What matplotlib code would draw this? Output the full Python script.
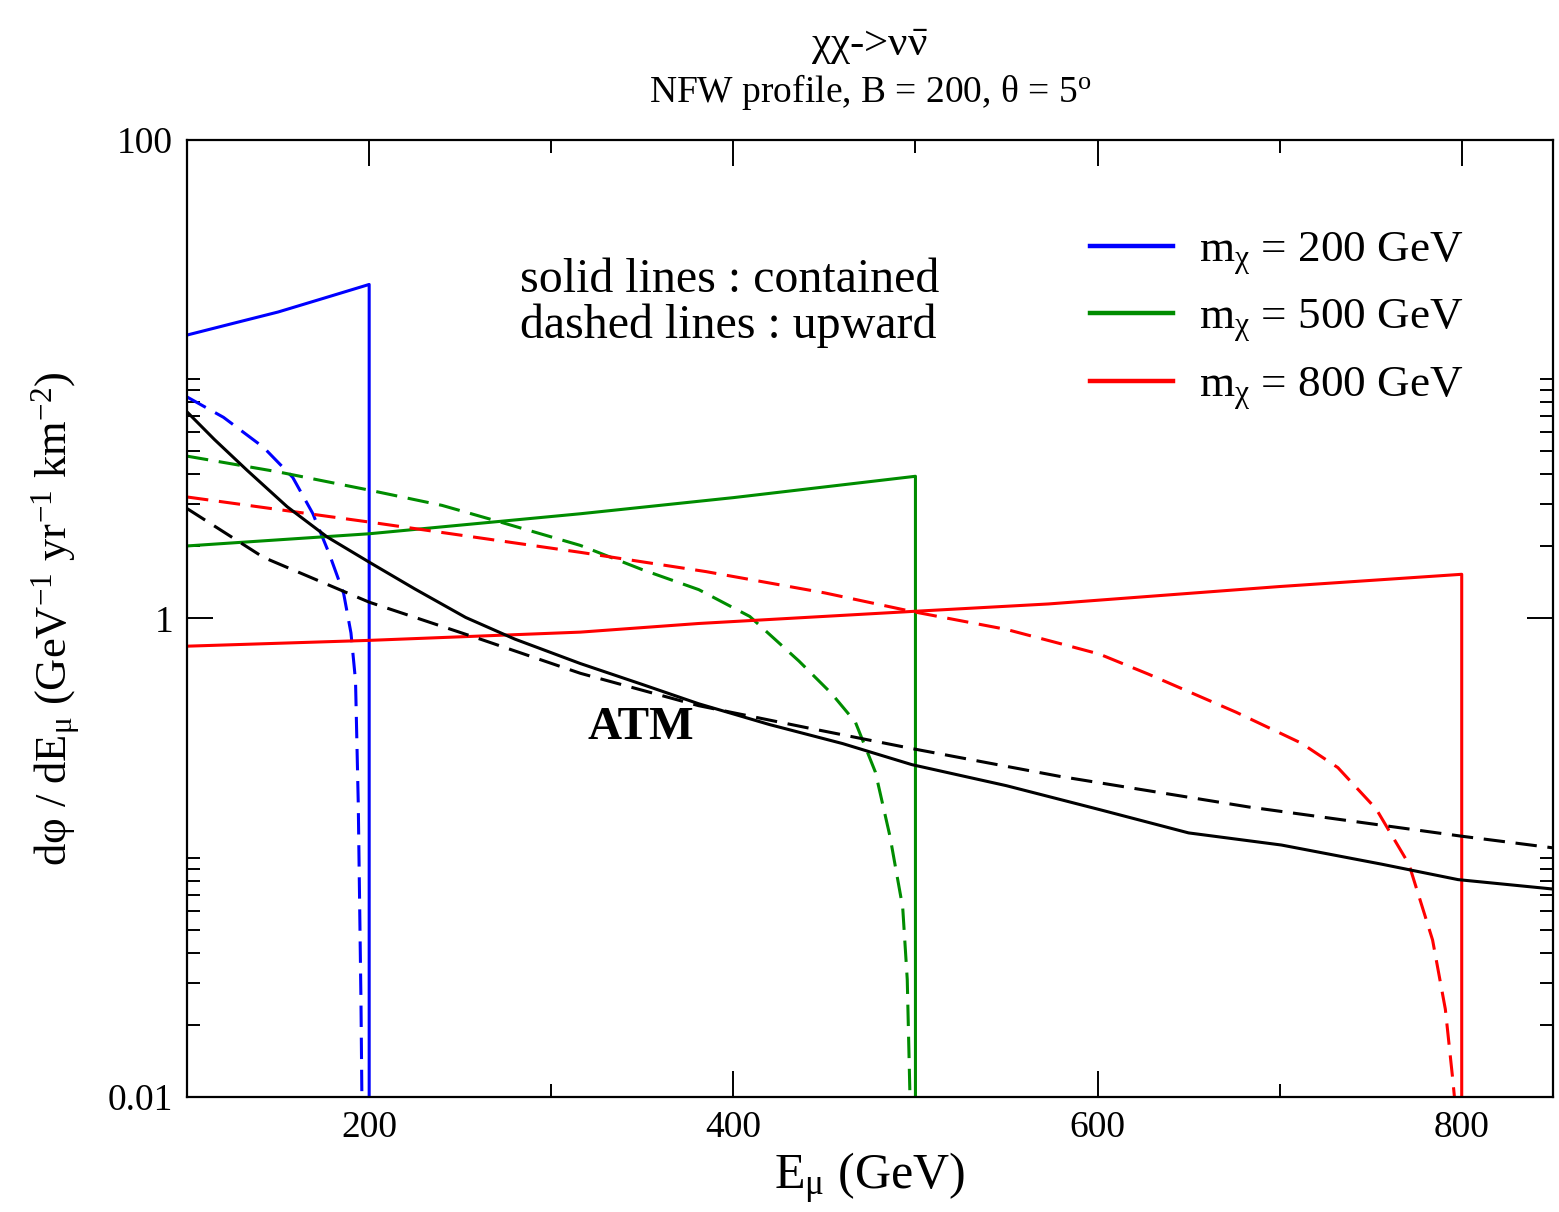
import numpy as np
import matplotlib
matplotlib.use('Agg')
import matplotlib.pyplot as plt
from matplotlib.ticker import MultipleLocator, FixedLocator, NullFormatter, FixedFormatter

plt.rcParams['font.family'] = ['Liberation Serif', 'DejaVu Serif']
plt.rcParams['mathtext.fontset'] = 'custom'
plt.rcParams['mathtext.rm'] = 'Liberation Serif'
plt.rcParams['mathtext.it'] = 'Liberation Serif'
plt.rcParams['mathtext.bf'] = 'Liberation Serif:bold'

#%% datos
# m = 200 GeV
b_sol_x = [100, 125, 150, 175, 200, 200]
b_sol_y = [15.3, 17.1, 19.1, 21.8, 24.9, 0.01]
b_das_x = [100, 120, 142, 158, 169, 178, 186, 190, 192.5, 194, 195.5, 196]
b_das_y = [8.43, 6.93, 5.19, 3.89, 2.75, 1.87, 1.27, 0.87, 0.55, 0.17, 0.025, 0.01]

# m = 500 GeV
g_sol_x = [100, 200, 316, 400, 500, 500]
g_sol_y = [2.01, 2.26, 2.74, 3.2, 3.93, 0.01]
g_das_x = [100, 150, 200, 240, 272, 316, 350, 381, 409, 436, 454, 467, 478, 486, 493, 495.5, 497]
g_das_y = [4.77, 4.1, 3.44, 2.97, 2.53, 2.02, 1.6, 1.32, 1.02, 0.664, 0.485, 0.369, 0.228, 0.123, 0.062, 0.031, 0.01]

# m = 800 GeV
r_sol_x = [100, 200, 316, 381, 498, 573, 700, 800, 800]
r_sol_y = [0.766, 0.81, 0.877, 0.953, 1.07, 1.15, 1.36, 1.53, 0.01]
r_das_x = [100, 200, 316, 385, 450, 498, 550, 579, 601, 628, 676, 712, 732, 753, 771, 784, 791, 795, 796]
r_das_y = [3.22, 2.53, 1.89, 1.57, 1.28, 1.07, 0.90, 0.787, 0.71, 0.585, 0.406, 0.301, 0.238, 0.160, 0.094, 0.0453, 0.0233, 0.012, 0.01]

# ATM
atm_sol_x = [100, 115, 133, 155, 177, 200, 225, 253, 280, 316, 350, 381, 420, 460, 498, 550, 601, 650, 701, 756, 798, 850]
atm_sol_y = [7.3, 5.6, 4.16, 2.93, 2.19, 1.72, 1.33, 1.01, 0.82, 0.648, 0.53, 0.44, 0.36, 0.30, 0.245, 0.20, 0.159, 0.127, 0.113, 0.094, 0.081, 0.074]
atm_das_x = [100, 142, 200, 261, 316, 381, 440, 498, 579, 683, 800, 850]
atm_das_y = [2.88, 1.80, 1.17, 0.82, 0.59, 0.432, 0.35, 0.286, 0.219, 0.163, 0.123, 0.110]

leyenda = ['m$_{\\chi}$ = 200 GeV', 'm$_{\\chi}$ = 500 GeV', 'm$_{\\chi}$ = 800 GeV']
ytick_vals = [0.01, 1, 100]
ytick_lab = ['0.01', '1', '100']

azul = '#0000ff'
verde = '#008c00'
rojo = '#ff0000'
lw = 2.2
dsh = (7, 3.5)

fig = plt.figure(figsize=(15.59, 12.12), dpi=100)
ax = fig.add_axes([0.120, 0.0949, 0.876, 0.7896])

l1, = ax.plot(b_sol_x, b_sol_y, color=azul, lw=lw)
ax.plot(b_das_x, b_das_y, color=azul, lw=lw, dashes=dsh)
l2, = ax.plot(g_sol_x, g_sol_y, color=verde, lw=lw)
ax.plot(g_das_x, g_das_y, color=verde, lw=lw, dashes=dsh)
l3, = ax.plot(r_sol_x, r_sol_y, color=rojo, lw=lw)
ax.plot(r_das_x, r_das_y, color=rojo, lw=lw, dashes=dsh)
ax.plot(atm_sol_x, atm_sol_y, color='k', lw=lw)
ax.plot(atm_das_x, atm_das_y, color='k', lw=lw, dashes=dsh)

ax.set_yscale('log')
ax.set_xlim(100, 850)
ax.set_ylim(0.01, 100)

ax.xaxis.set_major_locator(MultipleLocator(200))
ax.xaxis.set_minor_locator(MultipleLocator(100))
ax.yaxis.set_major_locator(FixedLocator(ytick_vals))
ax.yaxis.set_major_formatter(FixedFormatter(ytick_lab))
ax.yaxis.set_minor_locator(FixedLocator([k * m for m in (0.01, 1) for k in range(2, 11)]))
ax.yaxis.set_minor_formatter(NullFormatter())

ax.tick_params(which='both', direction='in', top=True, right=True, width=1.4)
ax.tick_params(which='major', length=19, labelsize=27, pad=10)
ax.tick_params(which='minor', length=9.5)
for s in ax.spines.values():
    s.set_linewidth(1.6)

ax.set_xlabel('E$_{\\mu}$ (GeV)', fontsize=36, labelpad=4)
ax.set_ylabel('d\u03c6 / dE$_{\\mu}$ (GeV$^{-1}$ yr$^{-1}$ km$^{-2}$)', fontsize=32, labelpad=18)

ax.legend([l1, l2, l3], leyenda, loc='upper left', bbox_to_anchor=(0.661, 0.906),
          frameon=False, fontsize=32.5, handlelength=1.85, handletextpad=0.58,
          labelspacing=0.46, borderpad=0, borderaxespad=0)
for h in ax.get_legend().get_lines():
    h.set_linewidth(3.2)

ax.text(0.244, 0.83, 'solid lines : contained\ndashed lines : upward', transform=ax.transAxes,
        fontsize=34.5, va='center', ha='left', linespacing=1.05)
ax.text(0.332, 0.386, 'ATM', transform=ax.transAxes, fontsize=34, fontweight='bold',
        va='center', ha='center')

fig.text(0.558, 0.961, '$\\chi\\chi$->$\\nu\\bar{\\nu}$', fontsize=31, ha='center', va='center')
fig.text(0.558, 0.924, 'NFW profile, B = 200, \u03b8 = 5$^{\\rm o}$', fontsize=27, ha='center', va='center')

plt.savefig('out.png', dpi=100)
